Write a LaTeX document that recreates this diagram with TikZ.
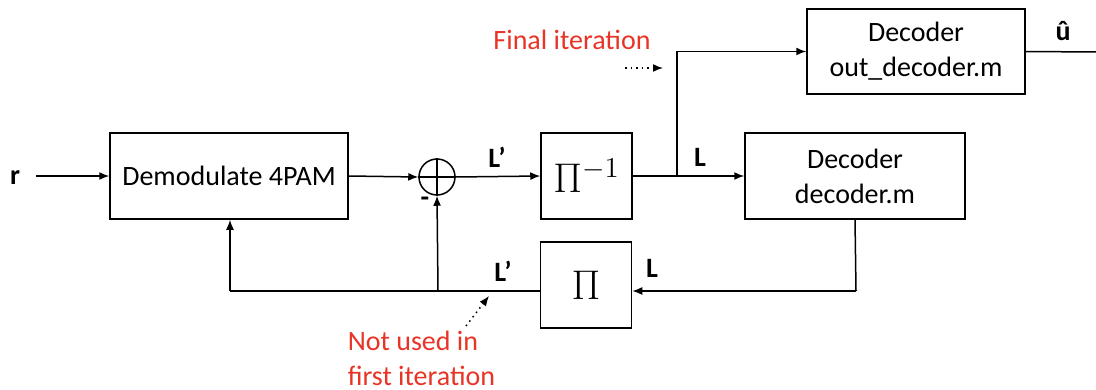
\documentclass[tikz,border=0pt]{standalone}
\usepackage{fontspec}
\setmainfont{Carlito}
\usetikzlibrary{arrows.meta}
\definecolor{notered}{RGB}{232,52,38}

\begin{document}
\begin{tikzpicture}[x=0.5pt,y=-0.5pt,line width=0.75pt,
  block/.style={draw, minimum height=43pt, inner sep=0pt, align=center,
    font=\fontsize{14}{17.5}\selectfont},
  pibox/.style={draw, minimum width=45.5pt, minimum height=43pt, inner sep=0pt,
    font=\fontsize{21}{24}\selectfont},
  sumnode/.style={draw, circle, minimum size=18pt, inner sep=0pt},
  sig/.style={font=\fontsize{14}{17}\selectfont\bfseries},
  note/.style={text=notered, align=left, inner sep=0pt,
    font=\fontsize{14}{17.5}\selectfont},
  >={Latex[length=5pt,width=4pt]}]
\useasboundingbox (0,0) rectangle (1096,390);

% blocks
\node[block, minimum width=119pt] (demod) at (229,176) {Demodulate 4PAM};
\node[sumnode] (sum) at (437,177) {};
\draw (sum.north) -- (sum.south) (sum.west) -- (sum.east);
\node[pibox] (invpi) at (586.5,176) {$\Pi^{-1}$};
\node[block, minimum width=110pt] (dec) at (855,176) {Decoder\\decoder.m};
\node[block, minimum width=109pt, minimum height=42.5pt] (outdec) at (916,51.5) {Decoder\\out\_decoder.m};
\node[pibox] (pi) at (586,285) {$\Pi$};

% points on the lines
\coordinate (rin) at (36,176);
\coordinate (split) at (677,176);
\coordinate (uout) at (1096,52);
\coordinate (fb) at (856,291);
\coordinate (tap) at (438,291);
\coordinate (fbend) at (230,291);

% forward path
\node[sig] (r) at (15,178) {r};
\draw[->] (rin) -- (demod.west);
\draw[->] (demod.east) -- (sum.west);
\draw[->] (sum.east) -- (invpi.west);
\node[sig] (lp1) at (497,157) {L’};
\draw[->] (invpi.east) -- (dec.west);
\node[sig] (l1) at (700,157) {L};
\draw[->] (split) |- (outdec.west);
\draw (outdec.east) -- (uout);
\node[sig] (uhat) at (1063,31) {û};

% feedback path
\draw (dec.south) -- (fb);
\draw[->] (fb) -- (fb -| pi.east);
\node[sig] (l2) at (652,268) {L};
\draw (pi.west |- tap) -- (fbend);
\draw[->] (fbend) -- (fbend |- demod.south);
\draw[->] (tap) -- (sum.south);
\node[sig] (lp2) at (503,271) {L’};
\node[sig] (minus) at (425,202) {-};

% notes
\node[note] (fin) at (572,40) {Final iteration};
\coordinate (fa) at (625,68);
\coordinate (fb2) at (663,68);
\draw[dotted,->] (fa) -- (fb2);
\node[note, anchor=north west] (nu) at (347,330) {Not used in\\first iteration};
\coordinate (na) at (466,326);
\coordinate (nb) at (489,296);
\draw[dotted,->] (na) -- (nb);
\end{tikzpicture}
\end{document}
